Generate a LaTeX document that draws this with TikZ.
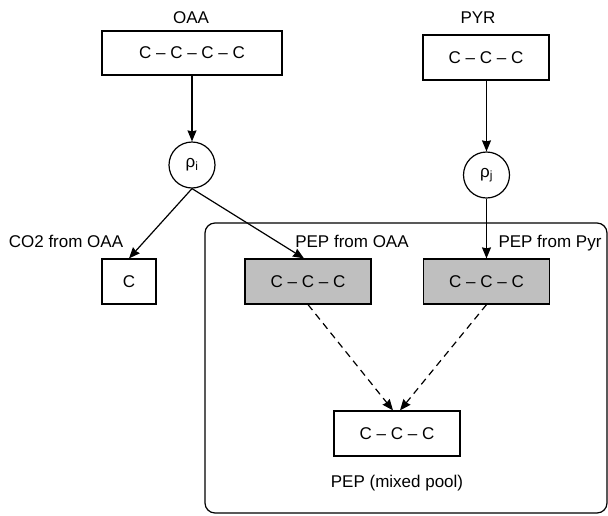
\documentclass[tikz,border=0pt]{standalone}
\usepackage{fontspec}
\setmainfont{Liberation Sans}
\usetikzlibrary{arrows.meta}

\begin{document}
\begin{tikzpicture}[x=1pt,y=-1pt,->,>={Stealth[length=11pt,width=9pt,inset=1pt]},
        line width=1.2pt,font=\fontsize{17}{20}\selectfont,
        box/.style={draw,rectangle,minimum width=126pt,minimum height=45pt,inner sep=0pt},
        pool/.style={box,fill=black!25},
        rate/.style={draw,circle,minimum size=46pt,inner sep=0pt},
        tag/.style={anchor=base,inner sep=0pt}]

  \useasboundingbox (0,0) rectangle (608,515);

  % mixed PEP compartment
  \draw[-,rounded corners=10pt] (205,223) rectangle (607,513);

  \node[box,minimum width=180pt,minimum height=44pt] (oaa) at (192,53) {C -- C -- C -- C};
  \node[box] (pyr) at (486,57.5) {C -- C -- C};
  \node[tag] (oaa_lbl) at (191,23) {OAA};
  \node[tag] (pyr_lbl) at (478,23) {PYR};

  \node[rate] (rho_i) at (192,165) {ρ\textsubscript{i}};
  \node[rate] (rho_j) at (486.5,175) {ρ\textsubscript{j}};

  \node[box,minimum width=54pt] (co2) at (129,281.5) {C};
  \node[pool] (pep_oaa) at (308,281.5) {C -- C -- C};
  \node[pool] (pep_pyr) at (486.5,281.5) {C -- C -- C};
  \node[box] (pep_mix) at (397,433.5) {C -- C -- C};

  \node[tag] (co2_lbl) at (66,247) {CO2 from OAA};
  \node[tag] (oaa_pep_lbl) at (352,247) {PEP from OAA};
  \node[tag] (pyr_pep_lbl) at (550,247) {PEP from Pyr};
  \node[tag] (mix_lbl) at (397,487) {PEP (mixed pool)};

  \path (oaa) edge (rho_i)
        (pyr.south -| rho_j) edge (rho_j)
        (rho_i.south) edge (co2.north)
        (rho_i.south) edge ([xshift=-4pt]pep_oaa.north)
        (rho_j) edge (pep_pyr)
        (pep_oaa.south) edge [dash pattern=on 7pt off 5pt] ([xshift=-4pt]pep_mix.north)
        (pep_pyr.south) edge [dash pattern=on 7pt off 5pt] ([xshift=3pt]pep_mix.north);

\end{tikzpicture}
\end{document}
